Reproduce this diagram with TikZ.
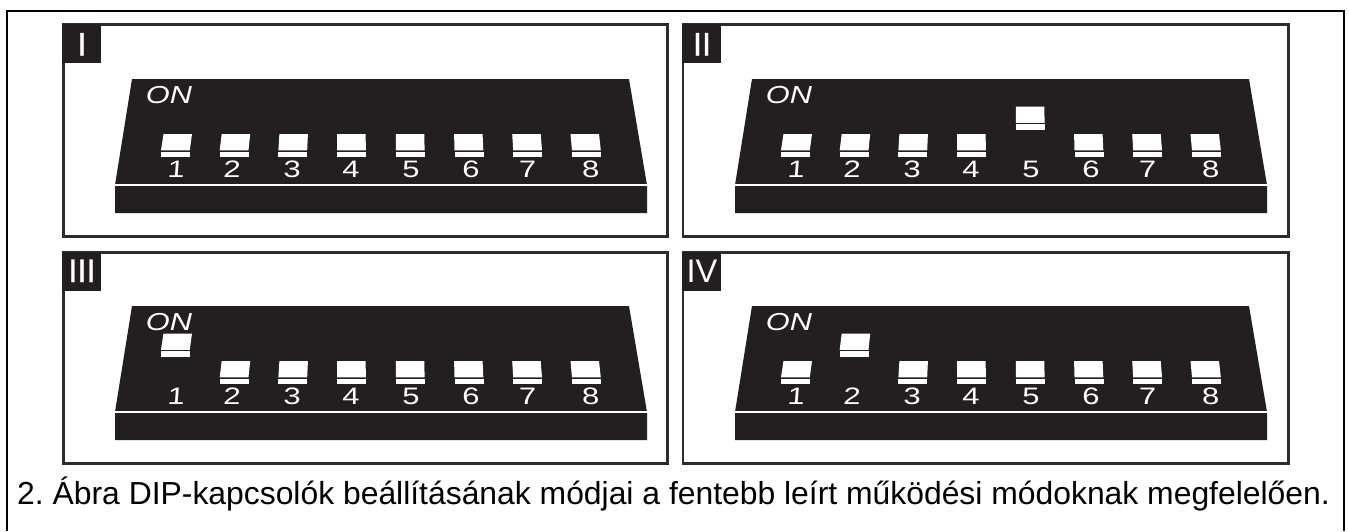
\documentclass[tikz,border=0pt]{standalone}
\usepackage{fontspec}
\setmainfont{Liberation Sans}
\newfontfamily\tabfont[FakeBold=0.8]{Liberation Sans}
\definecolor{ink}{HTML}{231F20}
\definecolor{frameink}{HTML}{2E2B2C}
\tikzset{
  panelbox/.style={draw=frameink,line width=2.6pt,fill=white},
  tabbox/.style={fill=ink,draw=none},
  chipbody/.style={fill=ink,draw=none},
  chipline/.style={draw=white,line width=1.6pt},
  capshape/.style={fill=white,draw=none},
  digit/.style={text=white,font=\fontsize{23.8}{25}\selectfont,inner sep=0pt,anchor=base,xscale=1.3,transform shape},
  onlabel/.style={text=white,font=\fontsize{24.6}{26}\selectfont\itshape,inner sep=0pt,anchor=base,xscale=1.25,transform shape},
  tablabel/.style={text=white,font=\fontsize{32.6}{34}\selectfont\tabfont,inner sep=0pt,anchor=base},
  tablabelthin/.style={text=white,font=\fontsize{32.6}{34}\selectfont,inner sep=0pt,anchor=base},
  captionlabel/.style={text=black,font=\fontsize{31.87}{34}\selectfont\frenchspacing,inner sep=0pt,anchor=base west}
}
\newcommand{\dipswitch}[6]{%
  \fill[capshape] ({#2+#3},{55-#5}) -- ({#2+#3+28.5},{55-#5}) -- ({#2+28.8},{71.3-#5}) -- (#2,{71.3-#5}) -- cycle;
  \fill[capshape] (#2,{72.7-#5}) rectangle ({#2+29},{78-#5});
  \node[digit,xslant=#6] (d#1) at (#4,98.7) {#1};
}
\newcommand{\dipchip}[3]{%
\begin{scope}[shift={(#1,#2)}]
  \fill[chipbody] (17,0) -- (514,0) -- (532,106) -- (532,134) -- (0,134) -- (0,106) -- cycle;
  \draw[chipline] (0,106) -- (532,106);
  \node[onlabel] (on) at (54,24) {ON};
  \def\lift{#3}
  \foreach \n/\bx/\sk/\dx/\sl in {1/46/2.5/60.7/.06,2/104.7/2/116.7/.04,3/163.4/1/177/.02,4/222.1/0/236/0,5/280.8/0/296/0,6/339.5/-.4/356/0,7/398.2/-1/413/-.02,8/457/-1.5/476/-.03}{
    \ifnum\n=\lift\relax\def\up{27.5}\else\def\up{0}\fi
    \dipswitch{\n}{\bx}{\sk}{\dx}{\up}{\sl}
  }
\end{scope}}
\begin{document}
\begin{tikzpicture}[x=1pt,y=-1pt]
\useasboundingbox (0,0) rectangle (1349,531);
\fill[white] (0,0) rectangle (1349,531);
\draw[black,line width=2pt] (6.5,531) -- (6.5,11) -- (1344,11) -- (1344,531);
% panels
\draw[panelbox] (63.5,24.5) rectangle (667.5,236.5);
\draw[panelbox] (683,24.5) rectangle (1288.5,236.5);
\draw[panelbox] (63.5,252.5) rectangle (667.5,463.5);
\draw[panelbox] (683,252.5) rectangle (1288.5,463.5);
% tabs
\fill[tabbox] (62,24) rectangle (101,63);
\fill[tabbox] (682,24) rectangle (721,63);
\fill[tabbox] (62,252) rectangle (101,290.5);
\fill[tabbox] (682,252) rectangle (721,290.5);
\node[tablabel] (t1) at (82,55.5) {I};
\node[tablabel] (t2) at (702,55.5) {II};
\node[tablabel] (t3) at (82,282) {III};
\node[tablabelthin] (t4) at (702,282) {IV};
\dipchip{115}{79}{0}
\dipchip{735}{79}{5}
\dipchip{115}{306}{1}
\dipchip{735}{306}{2}
\node[captionlabel] (cap) at (17,504) {2. Ábra DIP-kapcsolók beállításának módjai a fentebb leírt működési módoknak megfelelően.};
\end{tikzpicture}
\end{document}
